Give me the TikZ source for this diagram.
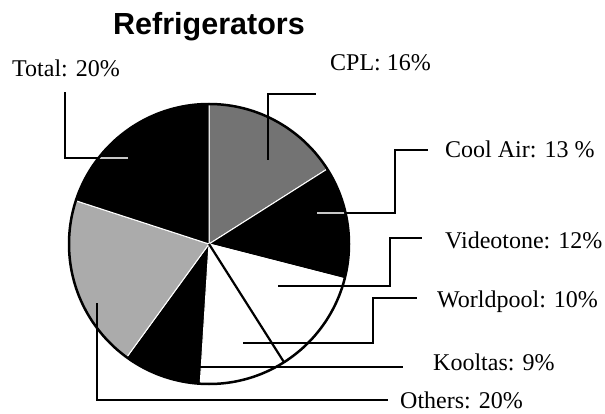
\documentclass[tikz,border=0pt]{standalone}
\usepackage{fontspec}
\setmainfont{Liberation Serif}
\newfontfamily\titlefont{Liberation Sans}
\begin{document}
\begin{tikzpicture}[x=1pt,y=-1pt,
  lbl/.style={anchor=base west, inner sep=0pt, font=\fontsize{24}{28}\selectfont},
  leader/.style={draw=black, line width=2pt},
  inleader/.style={draw=black!22, line width=1.2pt},
  blackslice/.style={fill=black, draw=white, line width=1pt},
  darkslice/.style={fill=black!55, draw=white, line width=1pt},
  lightslice/.style={fill=black!33, draw=white, line width=1pt},
  whiteslice/.style={fill=white, draw=white, line width=1pt},
]
\useasboundingbox (0,0) rectangle (605,414);
\coordinate (c) at (209,244);
\def\R{140}
\newcommand\myslice[3]{\filldraw[#3] (c) -- ++(#1:\R) arc[start angle=#1, end angle=#2, radius=\R] -- cycle;}
% slices (angles measured with y pointing down)
\myslice{-90}{-32.4}{darkslice}     % CPL 16%
\myslice{-32.4}{14.4}{blackslice}   % Cool Air 13%
\myslice{14.4}{57.6}{whiteslice}    % Videotone 12%
\myslice{57.6}{93.6}{whiteslice}    % Worldpool 10%
\myslice{93.6}{126}{blackslice}     % Kooltas 9%
\myslice{126}{198}{lightslice}      % Others 20%
\myslice{198}{270}{blackslice}      % Total 20%
\draw[line width=2.2pt] (c) -- ++(57.6:\R);
\draw[line width=2.5pt] (c) circle[radius=\R];

% title
\node[anchor=base west, inner sep=0pt, font=\titlefont\bfseries\fontsize{30.5}{35}\selectfont] (title) at (113,35) {Refrigerators};

% labels
\node[lbl] (total) at (12,77) {Total: 20\%};
\node[lbl] (cpl) at (330,71) {CPL: 16\%};
\node[lbl] (cool) at (445,158) {Cool Air: 13 \%};
\node[lbl] (video) at (445,248) {Videotone: 12\%};
\node[lbl] (world) at (437,307) {Worldpool: 10\%};
\node[lbl] (kool) at (433,370) {Kooltas: 9\%};
\node[lbl] (other) at (400,408.5) {Others: 20\%};

% leader end points
\coordinate (totS) at (128,158);  \coordinate (totT) at (65,92);
\coordinate (cplS) at (268,160);  \coordinate (cplT) at (316,94);
\coordinate (coolS) at (317,213); \coordinate (coolK) at (395,150); \coordinate (coolT) at (428,150);
\coordinate (vidS) at (278,286);  \coordinate (vidK) at (390,238);  \coordinate (vidT) at (422,238);
\coordinate (wpS) at (243,343);   \coordinate (wpK) at (373,298);   \coordinate (wpT) at (417,298);
\coordinate (koS) at (200,367);   \coordinate (koT) at (403,367);
\coordinate (othS) at (97,303);   \coordinate (othT) at (388,400);

% leaders
\draw[leader] (totS) -| (totT);
\draw[leader] (cplS) |- (cplT);
\draw[leader] (coolS) -| (coolK) -- (coolT);
\draw[leader] (vidS) -| (vidK) -- (vidT);
\draw[leader] (wpS) -| (wpK) -- (wpT);
\draw[leader] (koS) -- (koT);
\draw[leader] (othS) |- (othT);

% light parts of leaders over black slices
\begin{scope}
  \clip (c) circle[radius=\R-1.5];
  \draw[inleader] (totS) -| (totT);
  \draw[inleader] (coolS) -| (coolK);
\end{scope}
\end{tikzpicture}
\end{document}
